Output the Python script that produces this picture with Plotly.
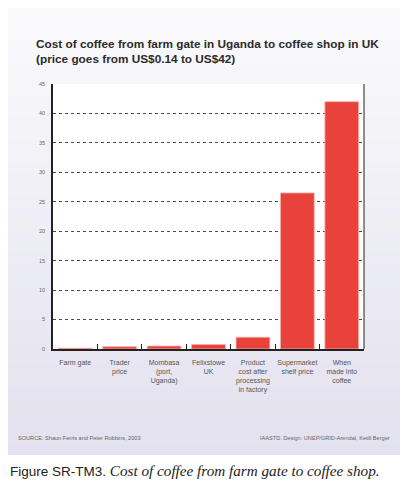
import plotly.graph_objects as go

# Data (US$ per unit)
stages = [
    "Farm gate",
    "Trader<br>price",
    "Mombasa<br>(port,<br>Uganda)",
    "Felixstowe<br>UK",
    "Product<br>cost after<br>processing<br>in factory",
    "Supermarket<br>shelf price",
    "When<br>made into<br>coffee",
]
prices = [0.14, 0.4, 0.5, 0.75, 2.0, 26.5, 42.0]
y_ticks = [0, 5, 10, 15, 20, 25, 30, 35, 40, 45]

# the page puts the plot 8px in from the window corner, so the figure is
# 8px smaller and every pixel position below is shifted by that offset
OFF = 8
W, H = 408 - OFF, 480 - OFF
SANS = "Liberation Sans, Arial, sans-serif"

# helpers: window pixel -> paper (margins are zero, so paper == whole figure)
def px(x):
    return max(0, (x - OFF)) / W

def py(y):
    return 1 - max(0, (y - OFF)) / H

fig = go.Figure(go.Bar(
    x=stages, y=prices,
    marker=dict(color="#e8423b", line=dict(color="#f6b0aa", width=0.8)),
    width=0.76,
))

# background panel with a soft vertical gradient
shapes = []
top, bot = 5, 455
n = 40
c0 = (250, 250, 252)
c1 = (226, 225, 238)
for i in range(n):
    f = i / (n - 1)
    c = tuple(int(round(c0[k] + (c1[k] - c0[k]) * f)) for k in range(3))
    y0 = top + (bot - top) * i / n
    y1 = min(bot, top + (bot - top) * (i + 1) / n + 0.5)
    shapes.append(dict(type="rect", xref="paper", yref="paper", layer="below",
                       x0=px(6), x1=px(404), y0=py(y1), y1=py(y0),
                       fillcolor="rgb(%d,%d,%d)" % c, line=dict(width=0)))
# white plotting area
shapes.append(dict(type="rect", xref="x domain", yref="y domain", layer="below",
                   x0=0, x1=1, y0=0, y1=1, fillcolor="white", line=dict(width=0)))
# right frame line
shapes.append(dict(type="line", xref="x domain", yref="y domain", layer="above",
                   x0=1, x1=1, y0=0, y1=1, line=dict(color="#444", width=1.2)))

fig.update_layout(
    width=W, height=H,
    margin=dict(l=0, r=0, t=0, b=0),
    paper_bgcolor="white",
    plot_bgcolor="rgba(0,0,0,0)",
    showlegend=False,
    shapes=shapes,
    font=dict(family=SANS, color="#555"),
)

fig.update_xaxes(
    type="category", domain=[px(53), px(364)], automargin=False,
    showline=True, linecolor="#222", linewidth=1.5,
    ticks="inside", tickson="boundaries", ticklen=5, tickcolor="#222", tickwidth=1,
    tickangle=0, tickfont=dict(size=7, color="#555", family=SANS),
    ticklabelstandoff=6,
    showgrid=False,
)
fig.update_yaxes(
    range=[0, 45], tickvals=y_ticks, domain=[py(349), py(84)], automargin=False,
    showline=True, linecolor="#222", linewidth=1.5,
    showgrid=True, gridcolor="#4a4a4a", gridwidth=1, griddash="3px,3px",
    zeroline=False,
    ticks="", ticklabelstandoff=5,
    tickfont=dict(size=5.5, color="#666", family=SANS),
)

annotations = [
    dict(text="<b>Cost of coffee from farm gate in Uganda to coffee shop in UK<br>"
              "(price goes from US$0.14 to US$42)</b>",
         x=px(34), y=py(35), xref="paper", yref="paper",
         xanchor="left", yanchor="top", align="left", showarrow=False,
         font=dict(size=11.8, color="#2b2b2b", family=SANS)),
    dict(text="SOURCE: Shaun Ferris and Peter Robbins, 2003",
         x=px(16), y=py(438), xref="paper", yref="paper",
         xanchor="left", yanchor="middle", showarrow=False,
         font=dict(size=5.6, color="#666", family=SANS)),
    dict(text="IAASTD. Design: UNEP/GRID-Arendal, Ketill Berger",
         x=px(392), y=py(438), xref="paper", yref="paper",
         xanchor="right", yanchor="middle", showarrow=False,
         font=dict(size=5.6, color="#666", family=SANS)),
    dict(text="Figure SR-TM3. <i><span style='font-family:Liberation Serif, serif;"
              "font-size:15.2px'>Cost of coffee from farm gate to coffee shop.</span></i>",
         x=0, y=py(470), xref="paper", yref="paper",
         xanchor="left", yanchor="middle", showarrow=False,
         font=dict(size=13.5, color="#222", family=SANS)),
]
fig.update_layout(annotations=annotations)

fig.write_html("out.html")
